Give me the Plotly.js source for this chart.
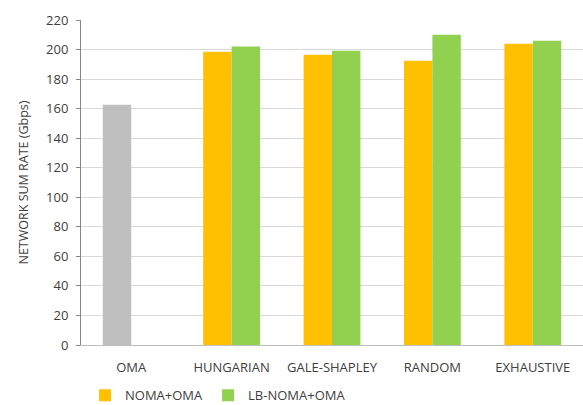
<!DOCTYPE html>
<html>
<head>
<meta charset="utf-8">
<script src="https://cdn.plot.ly/plotly-3.0.1.min.js"></script>
<style>html,body{margin:0;padding:0;background:#fff;}#chart{width:583px;height:405px;}</style>
</head>
<body>
<div id="chart"></div>
<script>
var categories = ["OMA", "HUNGARIAN", "GALE-SHAPLEY", "RANDOM", "EXHAUSTIVE"];
var omaValues = [162.6, null, null, null, null];
var nomaOmaValues = [null, 198.5, 196.5, 192.4, 204.0];
var lbNomaOmaValues = [null, 202.0, 199.2, 210.0, 206.0];
var yTicks = [0, 20, 40, 60, 80, 100, 120, 140, 160, 180, 200, 220];

var font = "Open Sans, Liberation Sans, sans-serif";
var traces = [
  {type: "bar", x: categories, y: omaValues, name: "OMA", showlegend: false,
   offsetgroup: "a", marker: {color: "#bfbfbf"}},
  {type: "bar", x: categories, y: nomaOmaValues, name: "NOMA+OMA",
   offsetgroup: "a", marker: {color: "#ffc000"}},
  {type: "bar", x: categories, y: lbNomaOmaValues, name: "LB-NOMA+OMA",
   offsetgroup: "b", marker: {color: "#92d050"}}
];
var layout = {
  width: 583, height: 405,
  margin: {l: 81, r: 0, t: 20, b: 60, autoexpand: false},
  barmode: "group", bargap: 0.434, bargroupgap: 0,
  paper_bgcolor: "#fff", plot_bgcolor: "#fff",
  font: {family: font, size: 13, color: "#404040"},
  xaxis: {type: "category", showline: true, linecolor: "#bfbfbf", linewidth: 1,
          ticks: "", tickfont: {size: 13, color: "#404040"}, showgrid: false,
          ticklabelstandoff: 10, automargin: false,
          range: [-0.5, 4.5], fixedrange: true},
  yaxis: {range: [0, 220], tickvals: yTicks, ticktext: yTicks.map(String),
          showline: true, linecolor: "#868686", linewidth: 1,
          ticks: "outside", ticklen: 4, tickcolor: "#868686",
          showgrid: true, gridcolor: "#d9d9d9", gridwidth: 1, zeroline: false,
          tickfont: {size: 13, color: "#404040"}, ticklabelstandoff: 5, automargin: false,
          title: {text: "NETWORK SUM RATE (Gbps)", font: {size: 12.5, color: "#404040"}, standoff: 14}},
  legend: {orientation: "h", x: 0.008, xref: "paper", y: 0.024, yref: "container", yanchor: "middle",
           font: {size: 13, color: "#404040"}, bgcolor: "rgba(0,0,0,0)",
           traceorder: "normal"},
  showlegend: true
};
Plotly.newPlot("chart", traces, layout, {displayModeBar: false, staticPlot: true});
</script>
</body>
</html>
